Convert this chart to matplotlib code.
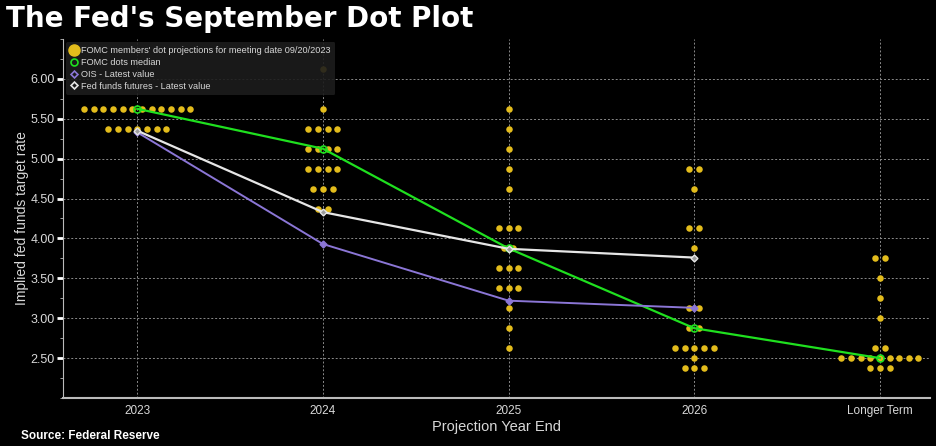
import matplotlib
matplotlib.use("Agg")
import matplotlib.pyplot as plt
from matplotlib.ticker import MultipleLocator, FormatStrFormatter
from matplotlib.lines import Line2D

categories = ["2023", "2024", "2025", "2026", "Longer Term"]

# dot projections: (rate, count) per category
dots_2023 = [(5.625, 12), (5.375, 7)]
dots_2024 = [(6.125, 1), (5.625, 1), (5.375, 4), (5.125, 4), (4.875, 4), (4.625, 3), (4.375, 2)]
dots_2025 = [(5.625, 1), (5.375, 1), (5.125, 1), (4.875, 1), (4.625, 1), (4.125, 3), (3.875, 2),
             (3.625, 3), (3.375, 3), (3.125, 1), (2.875, 1), (2.625, 1)]
dots_2026 = [(4.875, 2), (4.625, 1), (4.125, 2), (3.875, 1), (3.125, 2), (2.875, 2), (2.625, 5),
             (2.5, 1), (2.375, 3)]
dots_longer = [(3.75, 2), (3.5, 1), (3.25, 1), (3.0, 1), (2.625, 2), (2.5, 9), (2.375, 3)]
all_dots = [dots_2023, dots_2024, dots_2025, dots_2026, dots_longer]

median_vals = [5.625, 5.125, 3.875, 2.875, 2.5]
ois_vals = [5.33, 3.93, 3.22, 3.13]
futures_vals = [5.35, 4.33, 3.87, 3.76]

yticks = [2.50, 3.00, 3.50, 4.00, 4.50, 5.00, 5.50, 6.00]

BG = "black"
GOLD = "#E3BC1C"
GREEN = "#1FE01F"
PURPLE = "#8B76D6"
WHITE = "#E6E6E6"
GRID = "#8A8A8A"
TXT = "#D8D8D8"
FONT = ["Liberation Sans", "DejaVu Sans"]

fig = plt.figure(figsize=(9.36, 4.46), dpi=100, facecolor=BG)
ax = fig.add_axes([0.0673, 0.1076, 0.9263, 0.805], facecolor=BG)

spacing = 0.052
xs, ys = [], []
for i, group in enumerate(all_dots):
    for rate, n in group:
        for k in range(n):
            xs.append(i + (k - (n - 1) / 2) * spacing)
            ys.append(rate)
ax.scatter(xs, ys, s=22, color=GOLD, zorder=3, linewidths=0)

x_idx = list(range(len(categories)))
ax.plot(x_idx, median_vals, color=GREEN, lw=1.6, zorder=4,
        marker="o", markersize=5, markerfacecolor="none", markeredgecolor=GREEN, markeredgewidth=1.2)
ax.plot(x_idx[:len(ois_vals)], ois_vals, color=PURPLE, lw=1.4, zorder=4,
        marker="D", markersize=3.5, markerfacecolor=PURPLE, markeredgecolor=PURPLE)
ax.plot(x_idx[:len(futures_vals)], futures_vals, color=WHITE, lw=1.6, zorder=5,
        marker="D", markersize=3.5, markerfacecolor="#9a9a9a", markeredgecolor=WHITE)

ax.set_xlim(-0.40, 4.27)
ax.set_ylim(2.0, 6.5)
ax.set_xticks(x_idx)
ax.set_xticklabels(categories)
ax.set_yticks(yticks)
ax.yaxis.set_major_formatter(FormatStrFormatter("%.2f"))
ax.yaxis.set_minor_locator(MultipleLocator(0.25))

ax.grid(True, which="major", color=GRID, linestyle=(0, (2, 2)), linewidth=0.7, zorder=0)
for s in ["top", "right"]:
    ax.spines[s].set_visible(False)
ax.spines["left"].set_color("#BBBBBB")
ax.spines["bottom"].set_color("#BBBBBB")
ax.spines["bottom"].set_linewidth(1.5)
ax.tick_params(axis="both", colors=TXT)
ax.tick_params(axis="y", which="major", length=4, width=2, color="white", direction="out", pad=2)
ax.tick_params(axis="y", which="minor", length=2.5, color="#BBBBBB", direction="out")
ax.tick_params(axis="x", length=0, pad=5)
for lab in ax.get_yticklabels():
    lab.set_family(FONT)
    lab.set_fontsize(9)
for lab in ax.get_xticklabels():
    lab.set_family(FONT)
    lab.set_fontsize(8.5)

ax.set_ylabel("Implied fed funds target rate", color=TXT, fontsize=10, labelpad=1, family=FONT)
ax.set_xlabel("Projection Year End", color=TXT, fontsize=10.5, labelpad=2, family=FONT)

handles = [
    Line2D([], [], linestyle="none", marker="o", markersize=8, color=GOLD),
    Line2D([], [], linestyle="none", marker="o", markersize=5, markerfacecolor="none",
           markeredgecolor=GREEN, markeredgewidth=1.2),
    Line2D([], [], linestyle="none", marker="D", markersize=3.5, markerfacecolor="none",
           markeredgecolor=PURPLE, markeredgewidth=1.2),
    Line2D([], [], linestyle="none", marker="D", markersize=3.5, markerfacecolor="none",
           markeredgecolor=WHITE, markeredgewidth=1.2),
]
labels = ["FOMC members' dot projections for meeting date 09/20/2023",
          "FOMC dots median", "OIS - Latest value", "Fed funds futures - Latest value"]
leg = ax.legend(handles, labels, loc="upper left", bbox_to_anchor=(0.0, 1.0),
                prop={"family": FONT, "size": 6.6},
                frameon=True, facecolor="#1C1C1C", edgecolor="none", framealpha=0.9,
                handlelength=0.8, handletextpad=0.4, labelspacing=0.3, borderpad=0.5,
                borderaxespad=0.3)
for t in leg.get_texts():
    t.set_color(TXT)
leg.set_zorder(6)

fig.text(0.006, 0.958, "The Fed's September Dot Plot", color="white", fontsize=20,
         fontweight="bold", va="center", ha="left")
fig.text(0.022, 0.01, "Source: Federal Reserve", color="white", fontsize=8.5,
         fontweight="bold", va="bottom", ha="left", family=FONT)

fig.savefig("out.png", dpi=100, facecolor=BG)
